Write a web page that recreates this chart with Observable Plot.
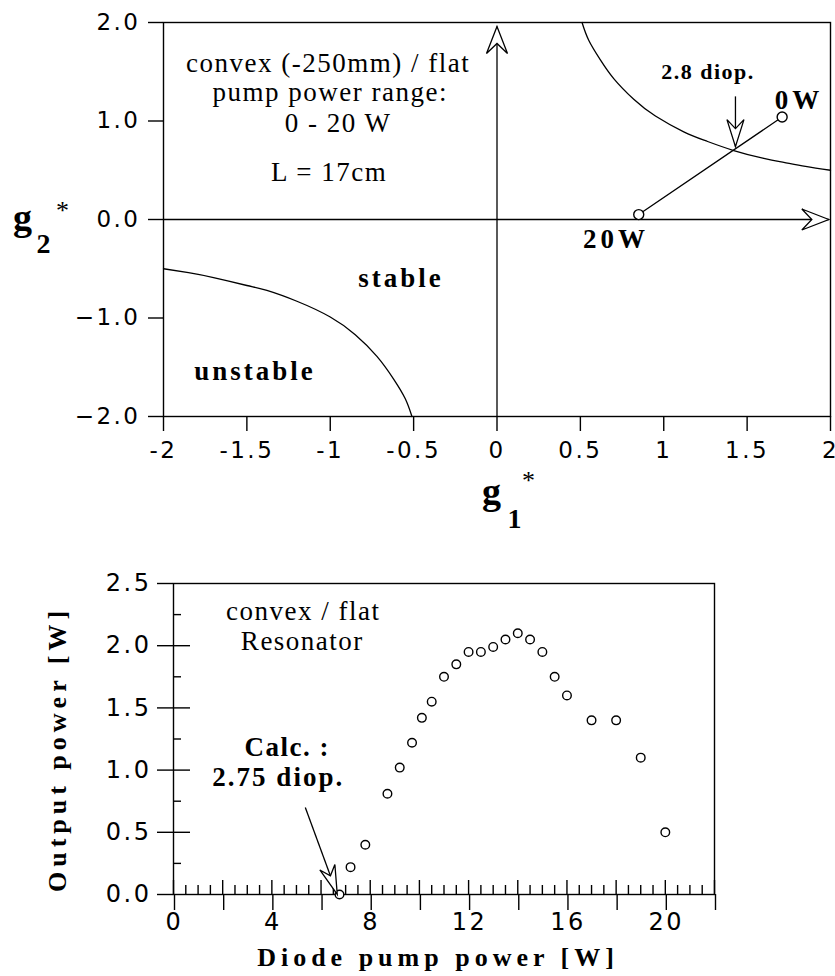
<!DOCTYPE html>
<html>
<head>
<meta charset="utf-8">
<script src="https://cdn.jsdelivr.net/npm/d3@7"></script>
<script src="https://cdn.jsdelivr.net/npm/@observablehq/plot@0.6"></script>
<style>
  body { margin: 0; background: #fff; }
  #chart svg { display: block; }
  g[aria-label="y-axis tick label"] text, g[aria-label="x-axis tick label"] text { letter-spacing: 2.5px; }
  g[aria-description="serif-ls1"] text { letter-spacing: 1.5px; }
  g[aria-description="bold-ls2"] text { letter-spacing: 2px; }
  g[aria-description="bold-ls3"] text { letter-spacing: 3px; }
  g[aria-description="bold-ls4"] text { letter-spacing: 4px; }
  g[aria-description="axis-title"] text { letter-spacing: 5px; }
</style>
</head>
<body>
<div id="chart"></div>
<script>
// ---------- Top chart: stability diagram ----------
const g1Ticks = [-2, -1.5, -1, -0.5, 0, 0.5, 1, 1.5, 2];
const g2Ticks = [-2, -1, 0, 1, 2];

// stability boundary, upper-right branch
const g1Upper = [0.51, 0.55, 0.62, 0.70, 0.82, 0.95, 1.12, 1.25, 1.42, 1.60, 1.72, 1.85, 2.0];
const g2Upper = [2.0, 1.82, 1.62, 1.43, 1.22, 1.05, 0.89, 0.80, 0.70, 0.62, 0.58, 0.54, 0.50];
// lower-left branch
const g1Lower = [-2.0, -1.85, -1.70, -1.50, -1.38, -1.20, -1.00, -0.85, -0.72, -0.62, -0.55, -0.51];
const g2Lower = [-0.50, -0.54, -0.59, -0.67, -0.72, -0.83, -0.99, -1.17, -1.39, -1.62, -1.82, -2.0];

// pump-power trajectory (0 W -> 20 W)
const pumpG1 = [1.71, 0.85];
const pumpG2 = [1.04, 0.05];
const pumpLabels = ["0W", "20W"];

// ---------- Bottom chart: output power ----------
const pumpPower = [6.75, 7.2, 7.8, 8.7, 9.2, 9.7, 10.1, 10.5, 11.0, 11.5, 12.0, 12.5, 13.0, 13.5, 14.0, 14.5, 15.0, 15.5, 16.0, 17.0, 18.0, 19.0, 20.0];
const outputPower = [0.0, 0.22, 0.40, 0.81, 1.02, 1.22, 1.42, 1.55, 1.75, 1.85, 1.95, 1.95, 1.99, 2.05, 2.10, 2.05, 1.95, 1.75, 1.60, 1.40, 1.40, 1.10, 0.50];
const xMajorTicks = [0, 2, 4, 6, 8, 10, 12, 14, 16, 18, 20, 22];
const xLabelTicks = [0, 4, 8, 12, 16, 20];
const xMinorTicks = d3.range(0.5, 22, 0.5).filter(v => v % 2 !== 0);
const yMajorTicks = [0, 0.5, 1.0, 1.5, 2.0, 2.5];
const yMinorTicks = [0.25, 0.75, 1.25, 1.75, 2.25];

// hollow, notched arrow head symbol (tip at origin, pointing up before rotation)
function head(halfW, len, notch) {
  return {
    draw(ctx) {
      ctx.moveTo(0, 0);
      ctx.lineTo(-halfW, len);
      ctx.lineTo(0, notch);
      ctx.lineTo(halfW, len);
      ctx.closePath();
    }
  };
}

const black = "black";
const sw = 1.4;
const serif = "Liberation Serif";

const rows = (xs, ys) => xs.map((x, i) => ({x, y: ys[i]}));

// annotation arrows in data coordinates
const topArrows = [
  {x1: 0, y1: -2, x2: 0, y2: 1.96, rot: 0},
  {x1: -2, y1: 0, x2: 1.99, y2: 0, rot: 90},
  {x1: 1.43, y1: 1.25, x2: 1.43, y2: 0.74, rot: 180}
];
const bottomArrows = [
  {x1: 5.36, y1: 0.70, x2: 6.66, y2: 0.0, rot: 160}
];

const txt = (s, opts) => Plot.text([s], {text: d => d, lineAnchor: "bottom", textAnchor: "middle", fontFamily: serif, ...opts});

const topPlot = Plot.plot({
  width: 835, height: 545,
  marginLeft: 163, marginRight: 5, marginTop: 22, marginBottom: 129,
  x: {domain: [-2, 2]},
  y: {domain: [-2, 2]},
  style: {fontFamily: "DejaVu Sans", fontSize: "23px", color: black, background: "white", overflow: "visible"},
  marks: [
    Plot.frame({strokeWidth: sw}),
    Plot.axisY(g2Ticks, {tickSize: 15, tickPadding: 8, tickFormat: d3.format(".1f"), strokeWidth: sw, label: null}),
    Plot.axisX(g1Ticks, {tickSize: 15, tickPadding: 10, tickFormat: d => d3.format("")(d).replace("−", "-"), strokeWidth: sw, label: null, dx: 0}),
    Plot.line(rows(g1Upper, g2Upper), {x: "x", y: "y", curve: "natural", strokeWidth: 1.3}),
    Plot.line(rows(g1Lower, g2Lower), {x: "x", y: "y", curve: "natural", strokeWidth: 1.3}),
    Plot.link(topArrows, {x1: "x1", y1: "y1", x2: "x2", y2: "y2", strokeWidth: 1.3}),
    Plot.dot(topArrows.slice(0, 2), {x: "x2", y: "y2", rotate: "rot", symbol: head(10.5, 27, 17), fill: "white", stroke: black, strokeWidth: 1.3}),
    Plot.dot(topArrows.slice(2), {x: "x2", y: "y2", rotate: "rot", symbol: head(8.5, 27, 18), fill: "white", stroke: black, strokeWidth: 1.3}),
    Plot.line(rows(pumpG1, pumpG2), {x: "x", y: "y", strokeWidth: 1.3}),
    Plot.dot(rows(pumpG1, pumpG2), {x: "x", y: "y", r: 5, fill: "white", stroke: black, strokeWidth: 1.4}),
    // text annotations
    txt("convex (-250mm) / flat", {x: -1.013, y: 1.496, fontSize: 27, ariaDescription: "serif-ls1"}),
    txt("pump power range:", {x: -1.0, y: 1.201, fontSize: 27, ariaDescription: "serif-ls1"}),
    txt("0 - 20 W", {x: -0.953, y: 0.886, fontSize: 27, ariaDescription: "serif-ls1"}),
    txt("L = 17cm", {x: -1.007, y: 0.387, fontSize: 27, ariaDescription: "serif-ls1"}),
    txt("stable", {x: -0.576, y: -0.682, fontWeight: "bold", fontSize: 27, ariaDescription: "bold-ls3"}),
    txt("unstable", {x: -1.451, y: -1.628, fontWeight: "bold", fontSize: 27, ariaDescription: "bold-ls3"}),
    txt("2.8 diop.", {x: 1.265, y: 1.425, fontWeight: "bold", fontSize: 22, ariaDescription: "serif-ls1"}),
    txt(pumpLabels[0], {x: 1.811, y: 1.12, fontWeight: "bold", fontSize: 27, ariaDescription: "bold-ls4"}),
    txt(pumpLabels[1], {x: 0.714, y: -0.285, fontWeight: "bold", fontSize: 27, ariaDescription: "bold-ls4"}),
    // axis titles g1*, g2*
    txt("g", {frameAnchor: "top-left", dx: 328, dy: 481, fontWeight: "bold", fontSize: 38}),
    txt("1", {frameAnchor: "top-left", dx: 351, dy: 505, fontWeight: "bold", fontSize: 28}),
    txt("*", {frameAnchor: "top-left", dx: 365, dy: 466, fontSize: 26}),
    txt("g", {frameAnchor: "top-left", dx: -141, dy: 207, fontWeight: "bold", fontSize: 38}),
    txt("2", {frameAnchor: "top-left", dx: -120, dy: 230, fontWeight: "bold", fontSize: 28}),
    txt("*", {frameAnchor: "top-left", dx: -101, dy: 196, fontSize: 26})
  ]
});

const plotH = 431 - 38 - 82;
const plotW = 835 - 173 - 121;

const bottomPlot = Plot.plot({
  width: 835, height: 431,
  marginLeft: 173, marginRight: 121, marginTop: 38, marginBottom: 82,
  x: {domain: [0, 22]},
  y: {domain: [0, 2.5]},
  style: {fontFamily: "DejaVu Sans", fontSize: "24px", color: black, background: "white", overflow: "visible"},
  marks: [
    Plot.frame({strokeWidth: sw}),
    Plot.axisX(xMajorTicks, {tickSize: 16, tickPadding: 2, tickFormat: d => xLabelTicks.includes(d) ? String(d) : "", strokeWidth: sw, label: null, dx: 1}),
    Plot.tickX(xMajorTicks, {x: d => d, insetTop: plotH - 14, strokeWidth: sw}),
    Plot.tickX(xMinorTicks, {x: d => d, insetTop: plotH - 9, strokeWidth: sw}),
    Plot.axisY(yMajorTicks, {tickSize: 16, tickPadding: 6, tickFormat: d3.format(".1f"), strokeWidth: sw, label: null}),
    Plot.tickY(yMajorTicks.filter(v => v > 0 && v < 2.5), {y: d => d, insetRight: plotW - 17, strokeWidth: sw}),
    Plot.tickY(yMinorTicks, {y: d => d, insetRight: plotW - 8, strokeWidth: sw}),
    Plot.link(bottomArrows, {x1: "x1", y1: "y1", x2: "x2", y2: "y2", strokeWidth: 1.3}),
    Plot.dot(rows(pumpPower, outputPower), {x: "x", y: "y", r: 4.3, fill: "white", stroke: black, strokeWidth: 1.4}),
    Plot.dot(bottomArrows, {x: "x2", y: "y2", rotate: "rot", symbol: head(8, 29, 20), fill: "white", stroke: black, strokeWidth: 1.3}),
    txt("convex / flat", {x: 5.28, y: 2.203, fontSize: 27, ariaDescription: "serif-ls1"}),
    txt("Resonator", {x: 5.24, y: 1.969, fontSize: 27, ariaDescription: "serif-ls1"}),
    txt("Calc. :", {x: 4.63, y: 1.117, fontWeight: "bold", fontSize: 27, ariaDescription: "serif-ls1"}),
    txt("2.75 diop.", {x: 4.26, y: 0.876, fontWeight: "bold", fontSize: 27, ariaDescription: "bold-ls2"}),
    Plot.text(["Output power [W]"], {frameAnchor: "left", dx: -116, dy: 10, rotate: -90, textAnchor: "middle", lineAnchor: "middle", text: d => d, fontFamily: serif, fontWeight: "bold", fontSize: 26, ariaDescription: "axis-title"}),
    txt("Diode pump power [W]", {frameAnchor: "bottom", dx: -6, dy: 71, fontWeight: "bold", fontSize: 26, ariaDescription: "axis-title"})
  ]
});

const chart = document.getElementById("chart");
chart.appendChild(topPlot);
chart.appendChild(bottomPlot);
</script>
</body>
</html>
